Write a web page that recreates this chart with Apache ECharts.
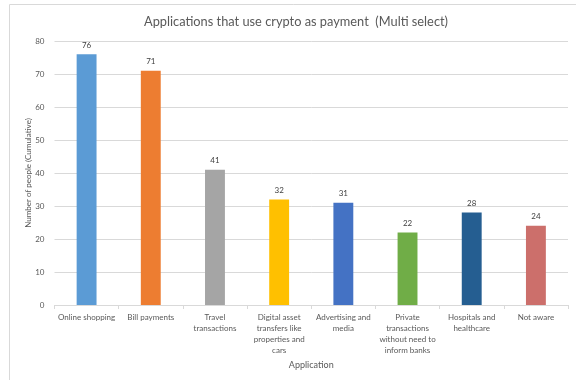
<!DOCTYPE html>
<html>
<head>
<meta charset="utf-8">
<style>
  html, body { margin: 0; padding: 0; background: #fff; }
  #chart { width: 576px; height: 380px; }
</style>
<script src="https://cdn.jsdelivr.net/npm/echarts@6/dist/echarts.min.js"></script>
</head>
<body>
<div id="chart"></div>
<script>
// Applications named by respondents (multi-select survey question)
const categories = [
  'Online shopping',
  'Bill payments',
  'Travel\ntransactions',
  'Digital asset\ntransfers like\nproperties and\ncars',
  'Advertising and\nmedia',
  'Private\ntransactions\nwithout need to\ninform banks',
  'Hospitals and\nhealthcare',
  'Not aware'
];
const counts = [76, 71, 41, 32, 31, 22, 28, 24];
const barColors = ['#5B9BD5', '#ED7D31', '#A5A5A5', '#FFC000', '#4472C4', '#70AD47', '#255E91', '#CC6F6B'];
const yTicks = { min: 0, max: 80, interval: 10 };

const font = 'Lato, "Open Sans", sans-serif';
const chart = echarts.init(document.getElementById('chart'), null, { renderer: 'canvas' });

chart.setOption({
  animation: false,
  textStyle: { fontFamily: font },
  graphic: [{
    type: 'rect',
    shape: { x: 9.5, y: 4.5, width: 600, height: 400 },
    style: { fill: 'none', stroke: '#d9d9d9', lineWidth: 1 },
    silent: true,
    z: -1
  }],
  title: {
    text: 'Applications that use crypto as payment  (Multi select)',
    left: 291,
    textAlign: 'center',
    top: 10,
    textStyle: { fontFamily: font, fontSize: 12.8, fontWeight: 'normal', color: '#595959' }
  },
  grid: { left: 54.5, right: 8, top: 41, bottom: 75, containLabel: false },
  xAxis: {
    type: 'category',
    data: categories,
    name: 'Application',
    nameLocation: 'middle',
    nameGap: 55,
    nameTextStyle: { fontFamily: font, fontSize: 9, color: '#595959' },
    axisLine: { lineStyle: { color: '#d9d9d9', width: 1 } },
    axisTick: { show: true, length: 4, lineStyle: { color: '#d9d9d9' } },
    axisLabel: {
      interval: 0,
      fontFamily: font,
      fontSize: 8,
      lineHeight: 11,
      color: '#595959',
      margin: 7
    }
  },
  yAxis: {
    type: 'value',
    min: yTicks.min,
    max: yTicks.max,
    interval: yTicks.interval,
    name: 'Number of people (Cumulative)',
    nameLocation: 'middle',
    nameGap: 22,
    nameMoveOverlap: false,
    nameTextStyle: { fontFamily: font, fontSize: 8, color: '#595959' },
    axisLine: { show: false },
    axisTick: { show: false },
    axisLabel: { fontFamily: font, fontSize: 8, color: '#595959', margin: 10 },
    splitLine: { lineStyle: { color: '#d9d9d9', width: 1 } }
  },
  series: [{
    type: 'bar',
    data: counts.map((v, i) => ({ value: v, itemStyle: { color: barColors[i] } })),
    barCategoryGap: '69%',
    label: {
      show: true,
      position: 'top',
      distance: 5,
      fontFamily: font,
      fontSize: 8,
      color: '#404040'
    }
  }]
});
</script>
</body>
</html>
